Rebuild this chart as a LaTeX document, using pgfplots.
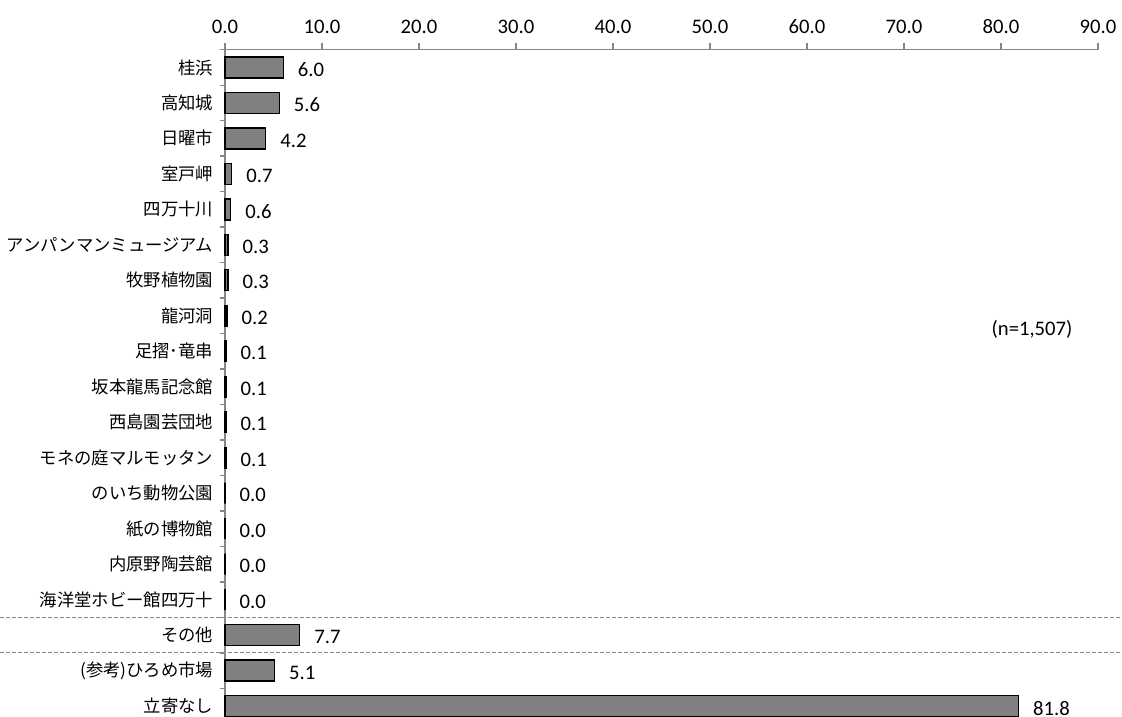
\documentclass[border=0pt]{standalone}
\usepackage{pgfplots}
\pgfplotsset{compat=1.18}
\usepackage{fontspec}
\setmainfont{Carlito}
\newfontfamily\cjk{Noto Sans CJK JP}
\definecolor{axgray}{RGB}{134,134,134}
\definecolor{bargray}{RGB}{128,128,128}
\begin{document}
\begin{tikzpicture}
\begin{axis}[
  scale only axis, width=654.75pt, height=500.25pt,
  xmin=0, xmax=90, ymin=-0.3, ymax=18.5,
  clip=false,
  axis x line=top, axis y line=left,
  axis line style={-, draw=axgray, line width=1.2pt},
  tick align=outside,
  xtick={0,10,...,90},
  major tick length=5.25pt, minor tick length=3.5pt,
  every tick/.style={draw=axgray, line width=1pt},
  minor y tick style={draw=axgray, line width=1pt},
  xticklabel style={font=\fontsize{15.5}{18}\selectfont, text=black, yshift=3.5pt},
  /pgf/number format/.cd, fixed, zerofill, precision=1, assume math mode=true,
  /pgfplots/.cd,
  ytick={0,...,18},
  yticklabels={立寄なし,(参考)ひろめ市場,その他,海洋堂ホビー館四万十,内原野陶芸館,紙の博物館,のいち動物公園,モネの庭マルモッタン,西島園芸団地,坂本龍馬記念館,足摺･竜串,龍河洞,牧野植物園,アンパンマンミュージアム,四万十川,室戸岬,日曜市,高知城,桂浜},
  yticklabel style={font=\cjk\fontsize{13}{15}\selectfont, text=black},
  major y tick style={draw=none},
  minor ytick={0.5,1.5,...,18.5},
  xbar, bar width=15.75pt,
  point meta=x,
  nodes near coords={\pgfmathprintnumber[fixed,zerofill,precision=1,assume math mode=true]{\pgfplotspointmeta}},
  nodes near coords style={font=\fontsize{15.5}{18}\selectfont, anchor=west, inner sep=0pt, xshift=10.5pt, yshift=-1.5pt, text=black},
]
\addplot[fill=bargray, draw=black, line width=1pt] coordinates {
  (81.8,0) (5.1,1) (7.7,2) (0.0,3) (0.0,4) (0.0,5) (0.0,6) (0.1,7) (0.1,8) (0.1,9)
  (0.1,10) (0.2,11) (0.3,12) (0.3,13) (0.6,14) (0.7,15) (4.2,16) (5.6,17) (6.0,18)
};
\draw[axgray, line width=0.8pt, dash pattern=on 3pt off 1.5pt] (axis cs:-23.196,2.5) -- (axis cs:92.474,2.5);
\draw[axgray, line width=0.8pt, dash pattern=on 3pt off 1.5pt] (axis cs:-23.196,1.5) -- (axis cs:92.474,1.5);
\node[font=\fontsize{15.5}{18}\selectfont] at (axis cs:83.2,10.61) {(n=1,507)};
\coordinate (tl) at (axis cs:-23.196,19.901);
\coordinate (br) at (axis cs:92.474,-0.3);
\end{axis}
\pgfresetboundingbox
\useasboundingbox (tl) rectangle (br);
\end{tikzpicture}
\end{document}
